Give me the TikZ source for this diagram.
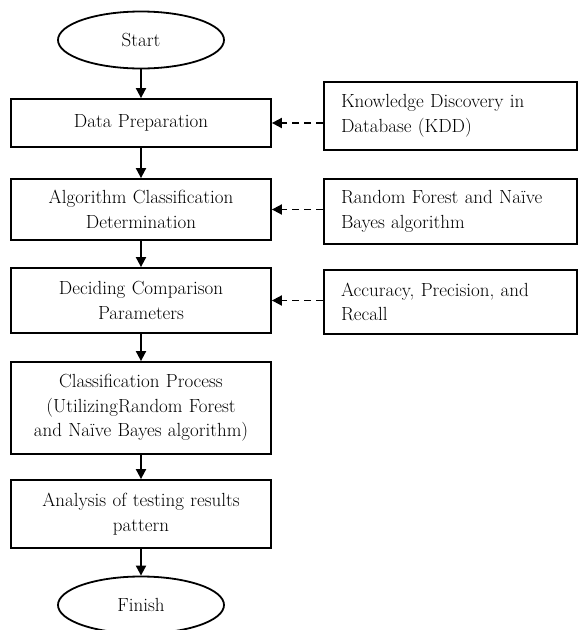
\documentclass[tikz,border=0pt]{standalone}
\usetikzlibrary{arrows.meta,shapes.geometric}

\begin{document}
\begin{tikzpicture}[x=1pt,y=-1pt,line width=1.8pt,
    every node/.style={font=\fontsize{19}{24.5}\selectfont}]

      \useasboundingbox (0,0) rectangle (578,630);

      \begin{scope}[every node/.style={ellipse,draw,minimum width=166pt,minimum height=57pt,
          font=\fontsize{19}{24.5}\selectfont}]
        \node (start)  at (141,40)  {Start};
        \node (finish) at (141,605) {Finish};
      \end{scope}

      \begin{scope}[every node/.style={rectangle,draw,minimum width=260pt,text width=250pt,
          align=center,inner sep=0pt,font=\fontsize{19}{24.5}\selectfont}]
        \node[minimum height=48pt] (prep)  at (141,123)   {Data Preparation};
        \node[minimum height=61pt] (algo)  at (141,209.5) {Algorithm Classification\\Determination};
        \node[minimum height=65pt] (param) at (141,300.5) {Deciding Comparison\\Parameters};
        \node[minimum height=92pt] (proc)  at (141,408)   {Classification Process\\(UtilizingRandom Forest\\and Na\"{\i}ve Bayes algorithm)};
        \node[minimum height=68pt] (anal)  at (141,514)   {Analysis of testing results\\pattern};
      \end{scope}

      \begin{scope}[every node/.style={rectangle,draw,minimum width=253pt,text width=219pt,
          align=left,inner xsep=17pt,inner ysep=0pt,font=\fontsize{19}{24.5}\selectfont}]
        \node[minimum height=68pt] (kdd)  at (450.5,116)   {Knowledge Discovery in\\Database (KDD)};
        \node[minimum height=65pt] (rfnb) at (450.5,211.5) {Random Forest and Na\"{\i}ve\\Bayes algorithm};
        \node[minimum height=64pt] (acc)  at (450.5,302)   {Accuracy, Precision, and\\Recall};
      \end{scope}

      \begin{scope}[every edge/.style={draw,-{Triangle[length=10pt,width=10pt]}}]
        \path (start) edge (prep);
        \path (prep)  edge (algo);
        \path (algo)  edge (param);
        \path (param) edge (proc);
        \path (proc)  edge (anal);
        \path (anal)  edge (finish);
      \end{scope}

      \begin{scope}[every edge/.style={draw,dash pattern=on 7pt off 5pt,-{Triangle[length=10pt,width=10pt]}}]
        \path (kdd.west |- prep.east)   edge (prep.east);
        \path (rfnb.west |- algo.east)  edge (algo.east);
        \path (acc.west |- param.east)  edge (param.east);
      \end{scope}

    \end{tikzpicture}
\end{document}
